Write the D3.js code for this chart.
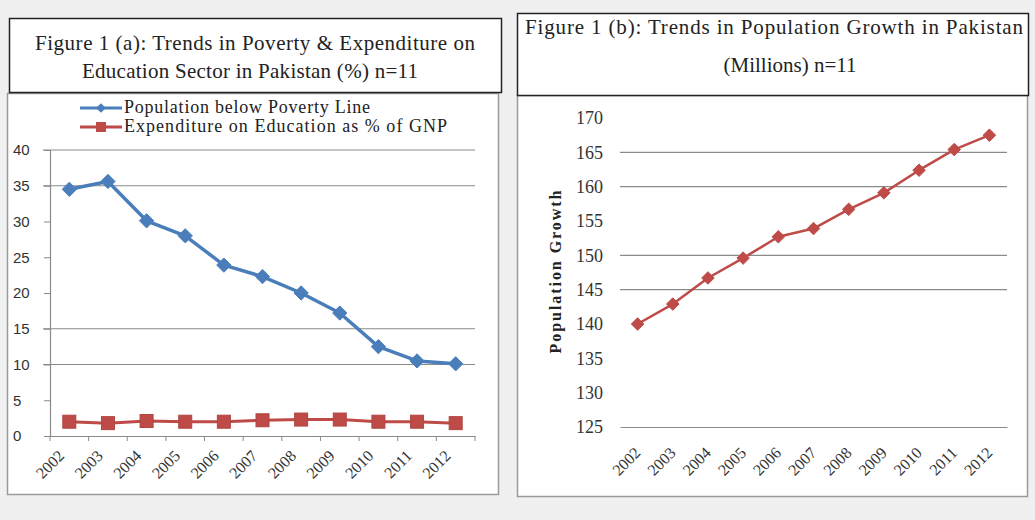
<!DOCTYPE html>
<html>
<head>
<meta charset="utf-8">
<script src="https://cdn.jsdelivr.net/npm/d3@7"></script>
<style>
  body { margin: 0; background: #f0f0f0; }
  svg { display: block; }
</style>
</head>
<body>
<script>
// data
const years = ["2002", "2003", "2004", "2005", "2006", "2007", "2008", "2009", "2010", "2011", "2012"];
const povertyLine = [34.5, 35.6, 30.1, 28.0, 23.9, 22.3, 20.0, 17.2, 12.5, 10.5, 10.1];
const eduExpenditure = [2.0, 1.8, 2.1, 2.0, 2.0, 2.2, 2.3, 2.3, 2.0, 2.0, 1.8];
const population = [140.0, 142.9, 146.7, 149.6, 152.7, 153.9, 156.7, 159.1, 162.4, 165.4, 167.5];

const leftTicks = [0, 5, 10, 15, 20, 25, 30, 35, 40];
const leftGrid = [10, 15, 35, 40];
const rightTicks = [125, 130, 135, 140, 145, 150, 155, 160, 165, 170];
const rightGrid = [145, 150, 160, 165];

const seriesNames = ["Population below Poverty Line", "Expenditure on Education as % of GNP"];

let width = 1035, height = 520;
let blue = "#4a7ebb", red = "#be4b48";
let serif = "'Liberation Serif', 'DejaVu Serif', serif";

let svg = d3.select("body").append("svg")
    .attr("width", width)
    .attr("height", height);

svg.append("rect").attr("width", width).attr("height", height).attr("fill", "#f0f0f0");

// ---------- panel boxes ----------
svg.append("rect").attr("x", 7.5).attr("y", 93.5).attr("width", 491).attr("height", 401)
    .attr("fill", "white").attr("stroke", "#9a9a9a").attr("stroke-width", 1.5);
svg.append("rect").attr("x", 9.5).attr("y", 18.5).attr("width", 492).attr("height", 74)
    .attr("fill", "white").attr("stroke", "#222").attr("stroke-width", 1.5);

svg.append("rect").attr("x", 517.5).attr("y", 95.5).attr("width", 510).attr("height", 401)
    .attr("fill", "white").attr("stroke", "#9a9a9a").attr("stroke-width", 1.5);
svg.append("rect").attr("x", 517.5).attr("y", 13.5).attr("width", 511).attr("height", 82)
    .attr("fill", "white").attr("stroke", "#222").attr("stroke-width", 1.5);

// titles
function titleLine(x, y, len, txt) {
  let t = svg.append("text")
    .attr("x", x).attr("y", y)
    .attr("font-family", serif).attr("font-size", 21)
    .attr("fill", "#222")
    .text(txt);
  if (len) t.attr("textLength", len).attr("lengthAdjust", "spacing");
  else t.attr("text-anchor", "middle");
}
titleLine(35, 50, 440, "Figure 1 (a): Trends in Poverty & Expenditure on");
titleLine(82, 78, 336, "Education Sector in Pakistan (%) n=11");
titleLine(525, 34, 498, "Figure 1 (b): Trends in Population Growth in Pakistan");
titleLine(790, 72, null, "(Millions) n=11");

// ---------- left chart ----------
let xL = d3.scaleBand().domain(years).range([50, 475]);
let yL = d3.scaleLinear().domain([0, 40]).range([436, 150]);
let cxL = d => xL(d) + xL.bandwidth() / 2;

let gL = svg.append("g");

gL.append("g").selectAll("line")
  .data(leftGrid)
  .join("line")
  .attr("x1", 43).attr("x2", 475)
  .attr("y1", d => yL(d)).attr("y2", d => yL(d))
  .attr("stroke", "#8a8a8a").attr("stroke-width", 1.2);

// y axis
let yAxisL = gL.append("g")
  .attr("transform", "translate(50,0)")
  .call(d3.axisLeft(yL).tickValues(leftTicks).tickSize(6).tickFormat(d3.format("d")));
yAxisL.select(".domain").attr("stroke", "#8a8a8a").attr("stroke-width", 1.2);
yAxisL.selectAll(".tick line").attr("stroke", "#8a8a8a");
yAxisL.selectAll(".tick text")
  .attr("x", -37).attr("text-anchor", "start")
  .attr("font-family", "'Liberation Sans', Arial, sans-serif")
  .attr("font-size", 15).attr("fill", "#333");

// x axis
let xAxisL = gL.append("g")
  .attr("transform", "translate(0,436)")
  .call(d3.axisBottom(xL).tickSize(0).tickPadding(0));
xAxisL.select(".domain").attr("stroke", "#8a8a8a").attr("stroke-width", 1.2);
xAxisL.selectAll(".tick text").remove();
xAxisL.selectAll(".bound")
  .data(d3.range(years.length + 1))
  .join("line")
  .attr("x1", i => 50 + i * xL.bandwidth()).attr("x2", i => 50 + i * xL.bandwidth())
  .attr("y1", 0).attr("y2", 5)
  .attr("stroke", "#8a8a8a");
gL.append("g").selectAll("text")
  .data(years)
  .join("text")
  .attr("transform", d => `translate(${cxL(d) - 12},${449}) rotate(-45)`)
  .attr("text-anchor", "end")
  .attr("dy", "0.7em")
  .attr("font-family", serif).attr("font-size", 16).attr("fill", "#333")
  .text(d => d);

// lines
let lineL = d3.line().x((d, i) => cxL(years[i])).y(d => yL(d));

gL.append("path").datum(povertyLine)
  .attr("d", lineL).attr("fill", "none")
  .attr("stroke", blue).attr("stroke-width", 3.5).attr("stroke-linejoin", "round");
gL.append("g").selectAll("path")
  .data(povertyLine)
  .join("path")
  .attr("transform", (d, i) => `translate(${cxL(years[i])},${yL(d)})`)
  .attr("d", d3.symbol(d3.symbolDiamond2, 130))
  .attr("fill", blue).attr("stroke", blue).attr("stroke-width", 1);

gL.append("path").datum(eduExpenditure)
  .attr("d", lineL).attr("fill", "none")
  .attr("stroke", red).attr("stroke-width", 3).attr("stroke-linejoin", "round");
gL.append("g").selectAll("rect")
  .data(eduExpenditure)
  .join("rect")
  .attr("x", (d, i) => cxL(years[i]) - 6.5).attr("y", d => yL(d) - 6.5)
  .attr("width", 13).attr("height", 13)
  .attr("fill", red).attr("stroke", "#b04542");

// legend
let legend = gL.append("g").selectAll("g")
  .data(seriesNames)
  .join("g")
  .attr("transform", (d, i) => `translate(80,${108 + i * 19})`);
legend.append("line")
  .attr("x1", 0).attr("x2", 42)
  .attr("stroke", (d, i) => i === 0 ? blue : red).attr("stroke-width", 3);
legend.filter((d, i) => i === 0).append("path")
  .attr("transform", "translate(21,0)")
  .attr("d", d3.symbol(d3.symbolDiamond2, 60))
  .attr("fill", blue);
legend.filter((d, i) => i === 1).append("rect")
  .attr("x", 16).attr("y", -5).attr("width", 10).attr("height", 10)
  .attr("fill", red);
legend.append("text")
  .attr("x", 44).attr("y", 5)
  .attr("font-family", serif).attr("font-size", 18).attr("fill", "#222")
  .attr("textLength", (d, i) => i === 0 ? 246 : 323)
  .attr("lengthAdjust", "spacing")
  .text(d => d);

// ---------- right chart ----------
let xR = d3.scaleBand().domain(years).range([620, 1007]);
let yR = d3.scaleLinear().domain([125, 170]).range([427, 118]);
let cxR = d => xR(d) + xR.bandwidth() / 2;

let gR = svg.append("g");

gR.append("g").selectAll("line")
  .data(rightGrid)
  .join("line")
  .attr("x1", 620).attr("x2", 1007)
  .attr("y1", d => yR(d)).attr("y2", d => yR(d))
  .attr("stroke", "#8a8a8a").attr("stroke-width", 1.2);

let yAxisR = gR.append("g")
  .attr("transform", "translate(620,0)")
  .call(d3.axisLeft(yR).tickValues(rightTicks).tickSize(0).tickPadding(17));
yAxisR.select(".domain").remove();
yAxisR.selectAll(".tick text")
  .attr("font-family", serif).attr("font-size", 18).attr("fill", "#333");

let xAxisR = gR.append("g")
  .attr("transform", `translate(0,${yR(125)})`)
  .call(d3.axisBottom(xR).tickSize(0));
xAxisR.select(".domain").attr("stroke", "#8a8a8a").attr("stroke-width", 1.2);
xAxisR.selectAll(".tick text").remove();
gR.append("g").selectAll("text")
  .data(years)
  .join("text")
  .attr("transform", d => `translate(${cxR(d) - 4},${446}) rotate(-45)`)
  .attr("text-anchor", "end")
  .attr("dy", "0.7em")
  .attr("font-family", serif).attr("font-size", 16).attr("fill", "#333")
  .text(d => d);

gR.append("text")
  .attr("transform", "translate(561,272) rotate(-90)")
  .attr("text-anchor", "middle")
  .attr("font-family", serif).attr("font-size", 16).attr("font-weight", "bold")
  .attr("fill", "#222")
  .attr("textLength", 163).attr("lengthAdjust", "spacing")
  .text("Population Growth");

let lineR = d3.line().x((d, i) => cxR(years[i])).y(d => yR(d));
gR.append("path").datum(population)
  .attr("d", lineR).attr("fill", "none")
  .attr("stroke", red).attr("stroke-width", 2.5).attr("stroke-linejoin", "round");
gR.append("g").selectAll("path")
  .data(population)
  .join("path")
  .attr("transform", (d, i) => `translate(${cxR(years[i])},${yR(d)})`)
  .attr("d", d3.symbol(d3.symbolDiamond2, 100))
  .attr("fill", red).attr("stroke", red);
</script>
</body>
</html>
